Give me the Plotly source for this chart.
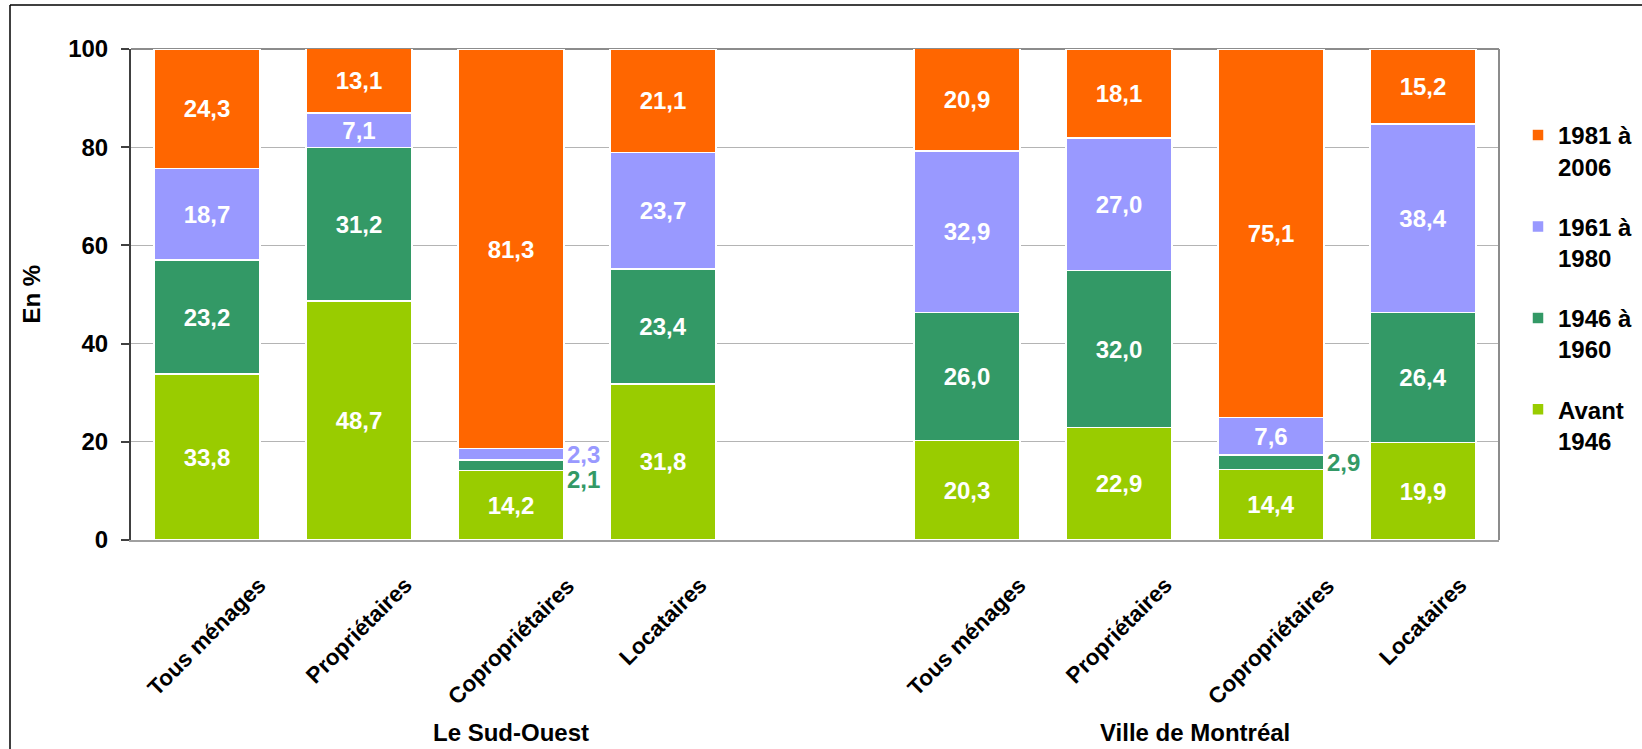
import plotly.graph_objects as go

# ---- data ----
categories = ["Tous ménages", "Propriétaires", "Copropriétaires", "Locataires",
              "Tous ménages", "Propriétaires", "Copropriétaires", "Locataires"]
positions = [0, 1, 2, 3, 5, 6, 7, 8]
groups = ["Le Sud-Ouest", "Ville de Montréal"]
group_pos = [2, 6.5]

avant_1946 = [33.8, 48.7, 14.2, 31.8, 20.3, 22.9, 14.4, 19.9]
p1946_1960 = [23.2, 31.2, 2.1, 23.4, 26.0, 32.0, 2.9, 26.4]
p1961_1980 = [18.7, 7.1, 2.3, 23.7, 32.9, 27.0, 7.6, 38.4]
p1981_2006 = [24.3, 13.1, 81.3, 21.1, 20.9, 18.1, 75.1, 15.2]

series = [
    ("Avant<br>1946", avant_1946, "#99CC00"),
    ("1946 à<br>1960", p1946_1960, "#339966"),
    ("1961 à<br>1980", p1961_1980, "#9999FF"),
    ("1981 à<br>2006", p1981_2006, "#FF6600"),
]

y_ticks = [0, 20, 40, 60, 80, 100]

FONT = "Liberation Sans, Arial, sans-serif"
SMALL = 5.0  # segments below this get an outside label

def fmt(v):
    return f"{v:.1f}".replace(".", ",")

fig = go.Figure()
annotations = []
base = [0.0] * len(positions)
for gi, (name, vals, color) in enumerate(series):
    texts = [fmt(v) if v >= SMALL else "" for v in vals]
    fig.add_trace(go.Bar(
        x=positions, y=vals, name=name, marker=dict(color=color, line=dict(color="white", width=1.5)),
        width=0.7, text=texts, textposition="inside", insidetextanchor="middle",
        constraintext="none", textangle=0,
        textfont=dict(family=FONT, size=24, color="white", weight="bold"),
        legendgroup=f"g{gi}", legendrank=100 - gi, hoverinfo="skip",
    ))
    for i, v in enumerate(vals):
        if v < SMALL:
            mid = base[i] + v / 2
            yshift = -14 if name.startswith("1946") and positions[i] == 2 else 0
            annotations.append(dict(
                x=positions[i] + 0.35, y=mid, xref="x", yref="y", text=fmt(v),
                showarrow=False, xanchor="left", yanchor="middle", xshift=1, yshift=yshift,
                font=dict(family=FONT, size=24, color=color, weight="bold")))
    base = [b + v for b, v in zip(base, vals)]

# category labels (rotated, centered under each bar)
for p, c in zip(positions, categories):
    annotations.append(dict(
        x=p, y=-30 / 491, xref="x", yref="paper", text=c, showarrow=False,
        textangle=-45, xanchor="center", yanchor="top",
        font=dict(family=FONT, size=22.5, color="black", weight="bold")))

for p, g in zip(group_pos, groups):
    annotations.append(dict(
        x=p, y=-192 / 491, xref="x", yref="paper", text=g, showarrow=False,
        xanchor="center", yanchor="middle",
        font=dict(family=FONT, size=24, color="black", weight="bold")))

annotations.append(dict(
    x=-100 / 1368, y=0.5, xref="paper", yref="paper", text="En %", showarrow=False,
    textangle=-90, xanchor="center", yanchor="middle",
    font=dict(family=FONT, size=24, color="black", weight="bold")))

shapes = [
    dict(type="line", xref="paper", yref="paper", x0=1, x1=1, y0=0, y1=1,
         line=dict(color="#8c8c8c", width=2), layer="above"),
    dict(type="line", xref="paper", yref="paper", x0=0, x1=1, y0=1, y1=1,
         line=dict(color="#8c8c8c", width=2), layer="below"),
    dict(type="line", xref="paper", yref="paper", x0=-121 / 1368, x1=1511 / 1368,
         y0=535 / 491, y1=535 / 491, line=dict(color="black", width=1.5)),
    dict(type="line", xref="paper", yref="paper", x0=-121 / 1368, x1=-121 / 1368,
         y0=535 / 491, y1=-220 / 491, line=dict(color="black", width=1.5)),
]

fig.update_layout(
    barmode="stack",
    width=1642, height=749,
    margin=dict(l=131, r=143, t=49, b=209, autoexpand=False),
    paper_bgcolor="white", plot_bgcolor="white",
    font=dict(family=FONT, color="black"),
    xaxis=dict(range=[-0.5, 8.5], showticklabels=False, ticks="", showgrid=False,
               showline=True, linecolor="#a0a0a0", linewidth=2, zeroline=False),
    yaxis=dict(range=[0, 100], tickvals=y_ticks, ticks="outside", ticklen=8,
               tickcolor="#404040", tickwidth=1.5, ticklabelstandoff=8,
               showline=True, linecolor="#404040", linewidth=2,
               showgrid=True, gridcolor="#b4b4b4", gridwidth=1, zeroline=False,
               tickfont=dict(family=FONT, size=24, color="black", weight="bold")),
    legend=dict(xref="container", yref="container", x=1518 / 1642, y=1 - 113 / 749,
                xanchor="left", yanchor="top",
                traceorder="grouped", tracegroupgap=26, valign="top",
                font=dict(family=FONT, size=24, color="black", weight="bold"),
                itemwidth=30, bgcolor="rgba(0,0,0,0)"),
    annotations=annotations,
    shapes=shapes,
    bargap=0.3,
)

fig.write_html("out.html")
